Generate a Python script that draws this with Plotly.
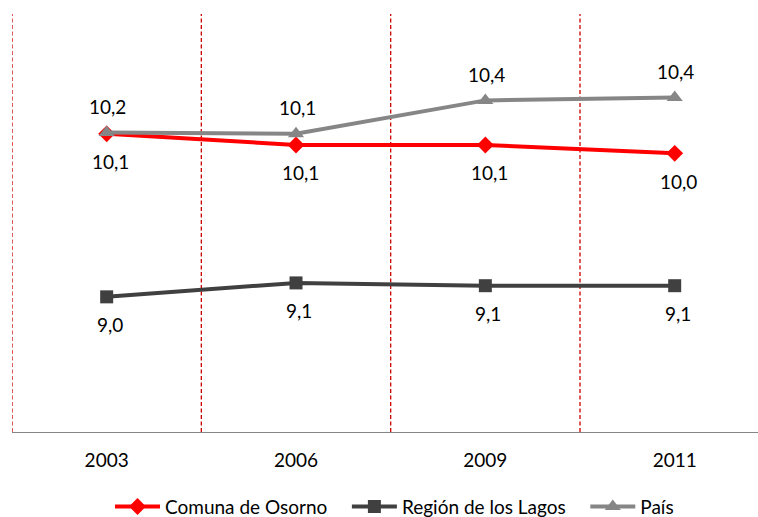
import plotly.graph_objects as go

years = ["2003", "2006", "2009", "2011"]
osorno = [10.14, 10.06, 10.06, 10.0]
region = [8.97, 9.07, 9.05, 9.05]
pais = [10.15, 10.14, 10.38, 10.4]

FONT = "Lato"
x = list(range(len(years)))
PAD = "\u00a0" * 3

def fmt(v):
    return f"{v:.1f}".replace(".", ",")

fig = go.Figure()
fig.add_trace(go.Scatter(x=x, y=osorno, name="Comuna de Osorno" + PAD, mode="lines+markers",
                         line=dict(color="#FF0000", width=4),
                         marker=dict(symbol="diamond", size=13, color="#FF0000")))
fig.add_trace(go.Scatter(x=x, y=region, name="Región de los Lagos" + PAD, mode="lines+markers",
                         line=dict(color="#404040", width=4),
                         marker=dict(symbol="square", size=13, color="#404040")))
fig.add_trace(go.Scatter(x=x, y=pais, name="País", mode="lines+markers",
                         line=dict(color="#868686", width=4),
                         marker=dict(symbol="triangle-up", size=14, color="#868686")))

annotations = []
for i, v in enumerate(osorno):
    annotations.append(dict(x=i, y=v, text=fmt(v), showarrow=False, yshift=-28, xshift=4))
for i, v in enumerate(region):
    annotations.append(dict(x=i, y=v, text=fmt(v), showarrow=False, yshift=-28, xshift=3))
for i, v in enumerate(pais):
    annotations.append(dict(x=i, y=v, text=fmt(v), showarrow=False, yshift=26, xshift=1))

shapes = []
for b in [-0.5, 0.5, 1.5, 2.5, 3.5]:
    shapes.append(dict(type="line", xref="x", yref="paper", x0=b, x1=b, y0=0, y1=1,
                       line=dict(color="#CC0000", width=1.3, dash="4px,2.5px"), layer="below"))

fig.update_layout(
    width=758, height=517,
    margin=dict(l=12, r=0, t=14, b=85, autoexpand=False),
    paper_bgcolor="white", plot_bgcolor="white",
    font=dict(family=FONT, size=19, color="black"),
    showlegend=True,
    legend=dict(orientation="h", xref="container", yref="container",
                x=110 / 758, xanchor="left", y=0.02, yanchor="middle",
                font=dict(family=FONT, size=19), itemwidth=45,
                traceorder="normal"),
    annotations=annotations,
    shapes=shapes,
)
fig.update_xaxes(range=[-0.5, 3.44], tickvals=x, ticktext=years, showgrid=False,
                 showline=True, linecolor="#868686", linewidth=1.3, zeroline=False,
                 ticks="", ticklabelstandoff=11, automargin=False)
fig.update_yaxes(range=[8, 11], visible=False, showgrid=False, zeroline=False, automargin=False)

fig.write_html("out.html", config={"displayModeBar": False},
               post_script="document.body.style.margin='0px';")
